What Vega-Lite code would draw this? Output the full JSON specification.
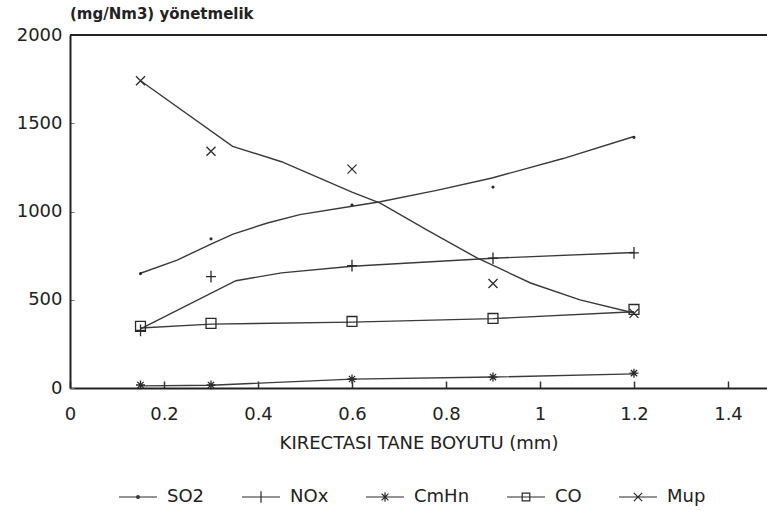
{
  "$schema": "https://vega.github.io/schema/vega-lite/v6.json",
  "width": 697,
  "height": 353,
  "autosize": {"type": "none"},
  "padding": {"left": 70, "top": 35, "right": 0, "bottom": 123},
  "background": "white",
  "title": {
    "text": "(mg/Nm3) yönetmelik",
    "anchor": "start",
    "frame": "group",
    "font": "DejaVu Sans",
    "fontSize": 15,
    "fontWeight": "bold",
    "color": "#222",
    "baseline": "bottom",
    "offset": -11
  },
  "config": {
    "view": {"stroke": null},
    "font": "DejaVu Sans"
  },
  "datasets": {
    "curve": [
      {"series": "SO2", "x": 0.15, "y": 650},
      {"series": "SO2", "x": 0.228, "y": 725},
      {"series": "SO2", "x": 0.3, "y": 815},
      {"series": "SO2", "x": 0.347, "y": 872},
      {"series": "SO2", "x": 0.42, "y": 935},
      {"series": "SO2", "x": 0.489, "y": 982},
      {"series": "SO2", "x": 0.6, "y": 1030},
      {"series": "SO2", "x": 0.66, "y": 1055},
      {"series": "SO2", "x": 0.78, "y": 1120},
      {"series": "SO2", "x": 0.898, "y": 1190},
      {"series": "SO2", "x": 1.049, "y": 1300},
      {"series": "SO2", "x": 1.2, "y": 1425},
      {"series": "NOx", "x": 0.15, "y": 335},
      {"series": "NOx", "x": 0.353, "y": 608},
      {"series": "NOx", "x": 0.45, "y": 652},
      {"series": "NOx", "x": 0.6, "y": 690},
      {"series": "NOx", "x": 0.9, "y": 735},
      {"series": "NOx", "x": 1.2, "y": 768},
      {"series": "CmHn", "x": 0.15, "y": 12},
      {"series": "CmHn", "x": 0.3, "y": 16},
      {"series": "CmHn", "x": 0.6, "y": 50},
      {"series": "CmHn", "x": 0.9, "y": 62},
      {"series": "CmHn", "x": 1.2, "y": 80},
      {"series": "CO", "x": 0.15, "y": 340},
      {"series": "CO", "x": 0.3, "y": 362},
      {"series": "CO", "x": 0.6, "y": 373},
      {"series": "CO", "x": 0.9, "y": 393},
      {"series": "CO", "x": 1.2, "y": 432},
      {"series": "Mup", "x": 0.15, "y": 1741},
      {"series": "Mup", "x": 0.346, "y": 1369},
      {"series": "Mup", "x": 0.45, "y": 1282},
      {"series": "Mup", "x": 0.6, "y": 1110},
      {"series": "Mup", "x": 0.66, "y": 1048},
      {"series": "Mup", "x": 0.76, "y": 895},
      {"series": "Mup", "x": 0.866, "y": 737},
      {"series": "Mup", "x": 0.98, "y": 595},
      {"series": "Mup", "x": 1.085, "y": 499},
      {"series": "Mup", "x": 1.2, "y": 425}
    ],
    "pts": [
      {"series": "SO2", "x": 0.15, "y": 648},
      {"series": "SO2", "x": 0.3, "y": 845},
      {"series": "SO2", "x": 0.6, "y": 1037},
      {"series": "SO2", "x": 0.9, "y": 1138},
      {"series": "SO2", "x": 1.2, "y": 1420},
      {"series": "NOx", "x": 0.15, "y": 327},
      {"series": "NOx", "x": 0.3, "y": 631},
      {"series": "NOx", "x": 0.6, "y": 693},
      {"series": "NOx", "x": 0.9, "y": 735},
      {"series": "NOx", "x": 1.2, "y": 766},
      {"series": "CmHn", "x": 0.15, "y": 17},
      {"series": "CmHn", "x": 0.3, "y": 17},
      {"series": "CmHn", "x": 0.6, "y": 51},
      {"series": "CmHn", "x": 0.9, "y": 62},
      {"series": "CmHn", "x": 1.2, "y": 84},
      {"series": "CO", "x": 0.15, "y": 349},
      {"series": "CO", "x": 0.3, "y": 366},
      {"series": "CO", "x": 0.6, "y": 377},
      {"series": "CO", "x": 0.9, "y": 394},
      {"series": "CO", "x": 1.2, "y": 445},
      {"series": "Mup", "x": 0.15, "y": 1741},
      {"series": "Mup", "x": 0.3, "y": 1341},
      {"series": "Mup", "x": 0.6, "y": 1240},
      {"series": "Mup", "x": 0.9, "y": 592},
      {"series": "Mup", "x": 1.2, "y": 423}
    ]
  },
  "resolve": {"scale": {"shape": "independent"}},
  "layer": [
    {
      "data": {"name": "curve"},
      "mark": {"type": "line", "interpolate": "linear", "stroke": "#3a3a3a", "strokeWidth": 1.4},
      "encoding": {
        "x": {
          "field": "x", "type": "quantitative",
          "scale": {"domain": [0, 1.483], "nice": false, "zero": false},
          "axis": {
            "values": [0, 0.2, 0.4, 0.6, 0.8, 1, 1.2, 1.4],
            "format": "~g",
            "labelFlush": false,
            "title": "KIRECTASI TANE BOYUTU (mm)",
            "titleFont": "DejaVu Sans",
            "titleFontSize": 18,
            "titleFontWeight": "normal",
            "titleColor": "#222",
            "titlePadding": 11,
            "labelFont": "DejaVu Sans",
            "labelFontSize": 18,
            "labelColor": "#222",
            "labelPadding": 24,
            "tickSize": -7,
            "tickColor": "#333",
            "tickWidth": 1.5,
            "domainColor": "#222",
            "domainWidth": 2,
            "grid": false
          }
        },
        "y": {
          "field": "y", "type": "quantitative",
          "scale": {"domain": [0, 2000], "nice": false},
          "axis": {
            "values": [0, 500, 1000, 1500, 2000],
            "format": "d",
            "labelFlush": false,
            "title": null,
            "labelFont": "DejaVu Sans",
            "labelFontSize": 18,
            "labelColor": "#222",
            "labelPadding": 12,
            "tickSize": -4,
            "tickColor": "#777",
            "tickWidth": 1,
            "domainColor": "#222",
            "domainWidth": 2,
            "grid": false
          }
        },
        "detail": {"field": "series"}
      }
    },
    {
      "data": {"name": "pts"},
      "mark": {"type": "point", "filled": false, "stroke": "#2a2a2a", "strokeWidth": 1.3, "size": 81, "opacity": 1},
      "encoding": {
        "x": {"field": "x", "type": "quantitative"},
        "y": {"field": "y", "type": "quantitative"},
        "shape": {
          "field": "series", "type": "nominal",
          "scale": {
            "domain": ["SO2", "NOx", "CmHn", "CO", "Mup"],
            "range": [
              "M-0.12,0A0.12,0.12 0 1,0 0.12,0A0.12,0.12 0 1,0 -0.12,0ZM-0.2,0A0.2,0.2 0 1,0 0.2,0A0.2,0.2 0 1,0 -0.2,0Z",
              "M-1.1,0H1.1M0,-1.3V1.3",
              "M-1,0H1M0,-1V1M-0.7,-0.7L0.7,0.7M-0.7,0.7L0.7,-0.7",
              "M-1.1,-1.1H1.1V1.1H-1.1Z",
              "M-1,-1L1,1M-1,1L1,-1"
            ]
          },
          "legend": null
        }
      }
    },
    {
      "data": {"name": "pts"},
      "mark": {"type": "point", "filled": false, "stroke": "#2a2a2a", "strokeWidth": 1.2, "opacity": 0},
      "encoding": {
        "x": {"field": "x", "type": "quantitative"},
        "y": {"field": "y", "type": "quantitative"},
        "shape": {
          "field": "series", "type": "nominal",
          "scale": {
            "domain": ["SO2", "NOx", "CmHn", "CO", "Mup"],
            "range": [
              "M-1,0H1M-0.07,0A0.07,0.07 0 1,0 0.07,0A0.07,0.07 0 1,0 -0.07,0Z",
              "M-1,0H1M0,-0.3V0.3",
              "M-1,0H1M0,-0.25V0.25M-0.18,-0.18L0.18,0.18M-0.18,0.18L0.18,-0.18",
              "M-1,0H1M-0.2,-0.2H0.2V0.2H-0.2Z",
              "M-1,0H1M-0.22,-0.22L0.22,0.22M-0.22,0.22L0.22,-0.22"
            ]
          },
          "legend": {
            "title": null,
            "orient": "none",
            "direction": "horizontal",
            "legendX": 48,
            "legendY": 442,
            "padding": 0,
            "symbolSize": 1444,
            "symbolOpacity": 1,
            "symbolStrokeColor": "#2a2a2a",
            "symbolStrokeWidth": 1.2,
            "symbolFillColor": "transparent",
            "labelFont": "DejaVu Sans",
            "labelFontSize": 18,
            "labelColor": "#222",
            "labelOffset": 9,
            "columnPadding": 34
          }
        }
      }
    },
    {
      "data": {"values": [{}]},
      "mark": {"type": "rule", "stroke": "#222", "strokeWidth": 2},
      "encoding": {"y": {"datum": 2000}}
    }
  ]
}
